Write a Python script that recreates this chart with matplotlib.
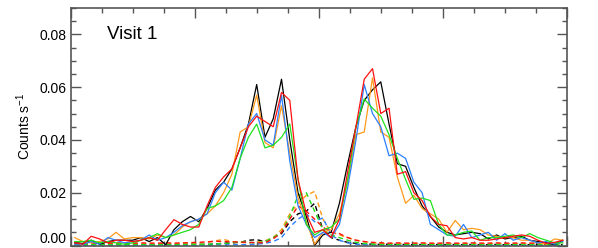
import numpy as np
import matplotlib
matplotlib.use('Agg')
import matplotlib.pyplot as plt
from matplotlib.ticker import MultipleLocator

plt.rcParams['font.family'] = ['Liberation Sans', 'DejaVu Sans']
plt.rcParams['mathtext.fontset'] = 'custom'
plt.rcParams['mathtext.rm'] = 'Liberation Sans'
plt.rcParams['mathtext.default'] = 'regular'

# bin centres (bins along the x axis, labels are cut off in the reference)
x = np.arange(60) + 0.5

# solid lines: observed count rates
black = [0.0010, 0.0008, 0.0020, 0.0005, 0.0015, 0.0020, 0.0020, 0.0020, 0.0030, 0.0015,
         0.0030, 0.0003, 0.0060, 0.0090, 0.0110, 0.0090, 0.0140, 0.0210, 0.0240, 0.0290,
         0.0370, 0.0460, 0.0610, 0.0410, 0.0480, 0.0630, 0.0400, 0.0200, 0.0110, 0.0000,
         0.0040, 0.0050, 0.0160, 0.0310, 0.0450, 0.0550, 0.0590, 0.0620, 0.0460, 0.0310,
         0.0300, 0.0220, 0.0150, 0.0110, 0.0070, 0.0050, 0.0040, 0.0045, 0.0050, 0.0045,
         0.0025, 0.0040, 0.0025, 0.0030, 0.0035, 0.0020, 0.0015, 0.0010, 0.0003, 0.0020]
orange = [0.0030, 0.0015, 0.0010, 0.0015, 0.0025, 0.0050, 0.0025, 0.0030, 0.0030, 0.0025,
          0.0040, 0.0030, 0.0040, 0.0070, 0.0090, 0.0100, 0.0120, 0.0150, 0.0200, 0.0270,
          0.0430, 0.0450, 0.0570, 0.0390, 0.0370, 0.0530, 0.0350, 0.0180, 0.0090, 0.0005,
          0.0050, 0.0060, 0.0120, 0.0240, 0.0420, 0.0430, 0.0635, 0.0430, 0.0410, 0.0260,
          0.0160, 0.0190, 0.0140, 0.0120, 0.0100, 0.0050, 0.0095, 0.0060, 0.0065, 0.0060,
          0.0040, 0.0035, 0.0030, 0.0030, 0.0020, 0.0020, 0.0010, 0.0005, 0.0025, 0.0020]
blue = [0.0005, 0.0005, 0.0015, 0.0005, 0.0030, 0.0020, 0.0010, 0.0015, 0.0020, 0.0040,
        0.0020, 0.0030, 0.0050, 0.0075, 0.0090, 0.0100, 0.0120, 0.0200, 0.0240, 0.0210,
        0.0330, 0.0460, 0.0500, 0.0400, 0.0380, 0.0570, 0.0320, 0.0150, 0.0080, 0.0030,
        0.0050, 0.0030, 0.0080, 0.0220, 0.0400, 0.0610, 0.0500, 0.0450, 0.0340, 0.0350,
        0.0330, 0.0240, 0.0200, 0.0080, 0.0060, 0.0040, 0.0035, 0.0080, 0.0030, 0.0040,
        0.0050, 0.0020, 0.0045, 0.0020, 0.0030, 0.0020, 0.0010, 0.0015, 0.0005, 0.0015]
green = [0.0015, 0.0015, 0.0020, 0.0010, 0.0015, 0.0010, 0.0005, 0.0010, 0.0020, 0.0030,
         0.0045, 0.0030, 0.0040, 0.0050, 0.0060, 0.0080, 0.0140, 0.0150, 0.0170, 0.0220,
         0.0330, 0.0410, 0.0460, 0.0370, 0.0380, 0.0410, 0.0460, 0.0250, 0.0080, 0.0040,
         0.0060, 0.0070, 0.0100, 0.0250, 0.0450, 0.0555, 0.0520, 0.0490, 0.0420, 0.0330,
         0.0250, 0.0175, 0.0180, 0.0170, 0.0080, 0.0040, 0.0040, 0.0050, 0.0055, 0.0020,
         0.0030, 0.0030, 0.0035, 0.0040, 0.0030, 0.0045, 0.0030, 0.0020, 0.0010, 0.0010]
red = [0.0010, 0.0005, 0.0035, 0.0025, 0.0010, 0.0020, 0.0020, 0.0015, 0.0020, 0.0030,
       0.0020, 0.0060, 0.0098, 0.0080, 0.0070, 0.0070, 0.0150, 0.0220, 0.0260, 0.0290,
       0.0370, 0.0450, 0.0490, 0.0470, 0.0450, 0.0580, 0.0550, 0.0250, 0.0120, 0.0050,
       0.0060, 0.0030, 0.0100, 0.0280, 0.0450, 0.0630, 0.0670, 0.0500, 0.0520, 0.0270,
       0.0280, 0.0200, 0.0170, 0.0110, 0.0080, 0.0075, 0.0030, 0.0025, 0.0030, 0.0020,
       0.0020, 0.0025, 0.0030, 0.0035, 0.0040, 0.0035, 0.0020, 0.0008, 0.0012, 0.0020]

# dashed lines: background / model contributions
black_d = [0.0003, 0.0004, 0.0003, 0.0005, 0.0004, 0.0003, 0.0004, 0.0005, 0.0004, 0.0003,
           0.0004, 0.0003, 0.0005, 0.0004, 0.0006, 0.0005, 0.0004, 0.0006, 0.0008, 0.0010,
           0.0012, 0.0020, 0.0022, 0.0015, 0.0030, 0.0045, 0.0090, 0.0120, 0.0130, 0.0160,
           0.0060, 0.0030, 0.0020, 0.0012, 0.0008, 0.0006, 0.0005, 0.0004, 0.0005, 0.0004,
           0.0004, 0.0003, 0.0004, 0.0003, 0.0004, 0.0003, 0.0004, 0.0003, 0.0004, 0.0003,
           0.0003, 0.0004, 0.0003, 0.0003, 0.0004, 0.0003, 0.0003, 0.0004, 0.0003, 0.0003]
orange_d = [0.0007, 0.0008, 0.0006, 0.0007, 0.0008, 0.0007, 0.0006, 0.0008, 0.0007, 0.0008,
            0.0007, 0.0008, 0.0007, 0.0009, 0.0008, 0.0010, 0.0012, 0.0018, 0.0023, 0.0015,
            0.0012, 0.0010, 0.0012, 0.0018, 0.0030, 0.0060, 0.0120, 0.0160, 0.0190, 0.0205,
            0.0100, 0.0050, 0.0040, 0.0030, 0.0020, 0.0015, 0.0010, 0.0008, 0.0007, 0.0008,
            0.0007, 0.0008, 0.0007, 0.0008, 0.0007, 0.0008, 0.0007, 0.0008, 0.0007, 0.0008,
            0.0007, 0.0008, 0.0007, 0.0008, 0.0007, 0.0008, 0.0007, 0.0008, 0.0007, 0.0008]
blue_d = [0.0001, 0.0001, 0.0001, 0.0001, 0.0001, 0.0001, 0.0001, 0.0001, 0.0001, 0.0001,
          0.0001, 0.0001, 0.0001, 0.0001, 0.0001, 0.0001, 0.0001, 0.0002, 0.0002, 0.0003,
          0.0003, 0.0004, 0.0005, 0.0008, 0.0015, 0.0030, 0.0070, 0.0100, 0.0120, 0.0090,
          0.0105, 0.0040, 0.0020, 0.0010, 0.0005, 0.0003, 0.0002, 0.0001, 0.0001, 0.0001,
          0.0001, 0.0001, 0.0001, 0.0001, 0.0001, 0.0001, 0.0001, 0.0001, 0.0001, 0.0001,
          0.0001, 0.0001, 0.0001, 0.0001, 0.0001, 0.0001, 0.0001, 0.0001, 0.0001, 0.0001]
green_d = [0.0003, 0.0003, 0.0004, 0.0003, 0.0003, 0.0004, 0.0003, 0.0003, 0.0004, 0.0003,
           0.0003, 0.0004, 0.0003, 0.0004, 0.0005, 0.0004, 0.0005, 0.0006, 0.0008, 0.0010,
           0.0015, 0.0012, 0.0010, 0.0015, 0.0030, 0.0050, 0.0110, 0.0190, 0.0200, 0.0130,
           0.0060, 0.0040, 0.0030, 0.0020, 0.0012, 0.0008, 0.0005, 0.0004, 0.0003, 0.0004,
           0.0003, 0.0003, 0.0004, 0.0003, 0.0003, 0.0004, 0.0003, 0.0003, 0.0004, 0.0003,
           0.0003, 0.0004, 0.0003, 0.0003, 0.0004, 0.0003, 0.0003, 0.0004, 0.0003, 0.0003]
red_d = [0.0009, 0.0009, 0.0010, 0.0009, 0.0009, 0.0010, 0.0009, 0.0009, 0.0010, 0.0009,
         0.0009, 0.0010, 0.0009, 0.0010, 0.0011, 0.0012, 0.0014, 0.0016, 0.0015, 0.0014,
         0.0013, 0.0012, 0.0011, 0.0010, 0.0025, 0.0050, 0.0100, 0.0150, 0.0130, 0.0100,
         0.0070, 0.0050, 0.0045, 0.0030, 0.0020, 0.0015, 0.0012, 0.0010, 0.0009, 0.0010,
         0.0009, 0.0009, 0.0010, 0.0009, 0.0009, 0.0010, 0.0009, 0.0009, 0.0010, 0.0009,
         0.0009, 0.0010, 0.0009, 0.0009, 0.0010, 0.0009, 0.0009, 0.0010, 0.0009, 0.0009]

solid = [black, orange, blue, green, red]
dashed = [black_d, orange_d, blue_d, green_d, red_d]
line_colors = ['black', '#ff9a1a', '#2a7fff', '#1ee01e', '#ff1010']

fig = plt.figure(figsize=(5.98, 2.48), dpi=100)
ax = fig.add_axes([0.118, 0.010, 0.830, 0.958])

for ys, c in zip(dashed, line_colors):
    ax.plot(x, ys, color=c, lw=1.0, ls=(0, (3.5, 2.5)))
for ys, c in zip(solid, line_colors):
    ax.plot(x, ys, color=c, lw=0.9)

ax.set_xlim(0, 60)
ax.set_ylim(0, 0.09)
ax.xaxis.set_major_locator(MultipleLocator(15))
ax.xaxis.set_minor_locator(MultipleLocator(3.75))
ax.yaxis.set_minor_locator(MultipleLocator(0.005))
ax.set_yticks([0.0, 0.02, 0.04, 0.06, 0.08])
ax.set_yticklabels(['0.00', '0.02', '0.04', '0.06', '0.08'])
ax.set_xticklabels([])

ax.tick_params(which='both', direction='in', top=True, right=True,
               color='#555555', width=1.0, labelsize=10, pad=3)
ax.tick_params(which='major', length=7.5)
ax.tick_params(which='minor', length=3.8)
for s in ax.spines.values():
    s.set_color('#555555')
    s.set_linewidth(1.2)

ax.get_yticklabels()[0].set_verticalalignment('bottom')

ax.set_ylabel('Counts s$^{-1}$', fontsize=10)
ax.yaxis.set_label_coords(-0.076, 0.5)
ax.text(0.073, 0.888, 'Visit 1', transform=ax.transAxes, fontsize=13.5,
        va='center', ha='left')

fig.savefig('out.png', dpi=100)
